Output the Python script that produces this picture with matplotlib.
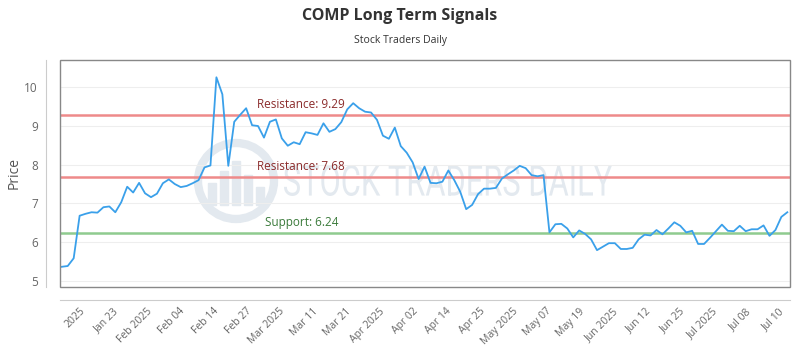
import numpy as np
import matplotlib
matplotlib.use('Agg')
import matplotlib.pyplot as plt
from matplotlib.patches import Rectangle, Circle, PathPatch
from matplotlib.textpath import TextPath
from matplotlib.font_manager import FontProperties
from matplotlib.transforms import Affine2D

plt.rcParams['font.family'] = ['Open Sans', 'DejaVu Sans']

# Dane: cena zamknięcia (dni sesyjne)
prices = [
    5.36, 5.38, 5.58, 6.68, 6.73, 6.77, 6.76, 6.90, 6.92, 6.77,
    7.03, 7.43, 7.28, 7.53, 7.26, 7.16, 7.25, 7.52, 7.62, 7.50,
    7.42, 7.45, 7.52, 7.60, 7.93, 7.98, 10.26, 9.82, 7.97, 9.11,
    9.29, 9.46, 9.02, 9.00, 8.70, 9.11, 9.17, 8.68, 8.49, 8.58,
    8.53, 8.84, 8.81, 8.77, 9.07, 8.85, 8.92, 9.10, 9.43, 9.59,
    9.46, 9.37, 9.35, 9.16, 8.75, 8.67, 8.96, 8.48, 8.31, 8.06,
    7.63, 7.95, 7.53, 7.52, 7.56, 7.85, 7.60, 7.30, 6.85, 6.96,
    7.24, 7.38, 7.38, 7.40, 7.64, 7.75, 7.85, 7.97, 7.91, 7.73,
    7.70, 7.73, 6.25, 6.46, 6.47, 6.35, 6.12, 6.30, 6.21, 6.07,
    5.79, 5.88, 5.97, 5.97, 5.82, 5.82, 5.85, 6.07, 6.19, 6.17,
    6.31, 6.20, 6.35, 6.51, 6.42, 6.25, 6.29, 5.95, 5.95, 6.11,
    6.28, 6.45, 6.29, 6.28, 6.42, 6.28, 6.33, 6.33, 6.43, 6.16,
    6.31, 6.65, 6.77,
]

tick_labels = ['2025', 'Jan 23', 'Feb 2025', 'Feb 04', 'Feb 14', 'Feb 27',
               'Mar 2025', 'Mar 11', 'Mar 21', 'Apr 2025', 'Apr 02', 'Apr 14',
               'Apr 25', 'May 2025', 'May 07', 'May 19', 'Jun 2025', 'Jun 12',
               'Jun 25', 'Jul 2025', 'Jul 08', 'Jul 10']

resistance_levels = [9.29, 7.68]
support_levels = [6.24]

x = np.arange(len(prices))

fig = plt.figure(figsize=(8, 3.5), dpi=100)
ax = fig.add_axes([60 / 800, 1 - 286.5 / 350, 730 / 800, 227 / 350])

# Znak wodny
def px(xp, yp):
    return xp / 100, (350 - yp) / 100

wm_color = '#e3e9ef'
cx, cy = px(236, 181)
fig.patches.append(Circle((cx, cy), 0.38, transform=fig.dpi_scale_trans,
                          fill=False, edgecolor=wm_color, lw=6, zorder=0))
for bx, bh in [(212, 22), (224, 34), (236, 44), (248, 30), (260, 18)]:
    x0, y0 = px(bx - 4, 205)
    fig.patches.append(Rectangle((x0, y0), 0.08, bh / 100, transform=fig.dpi_scale_trans,
                                 color=wm_color, zorder=0))
tp = TextPath((0, 0), 'STOCK TRADERS DAILY', size=1, prop=FontProperties(family='Roboto'))
ext = tp.get_extents()
sx = 3.28 / ext.width
sy = 0.31 / ext.height
tx, ty = px(284, 196)
tr = Affine2D().translate(-ext.x0, -ext.y0).scale(sx, sy).translate(tx, ty) + fig.dpi_scale_trans
fig.patches.append(PathPatch(tp, transform=tr, color=wm_color, lw=0, zorder=0))

ax.set_facecolor('none')
ax.set_zorder(2)

# Osie przesunięte na zewnątrz (przed ustawieniem etykiet, bo resetuje ticki)
for s in ['top', 'right']:
    ax.spines[s].set_visible(False)
for s in ['left', 'bottom']:
    ax.spines[s].set_position(('outward', 10))
    ax.spines[s].set_color('#cccccc')

for v in range(5, 11):
    ax.axhline(v, color='#eeeeee', lw=0.8, zorder=1)

for lvl in resistance_levels:
    ax.axhline(lvl, color='#ee8a8a', lw=1.8, zorder=2)
    ax.annotate(f'Resistance: {lvl:.2f}', xy=(32.8, lvl), xytext=(0, 3),
                textcoords='offset points', color='#8b2b2b', fontsize=8.5,
                va='bottom', ha='left')
for lvl in support_levels:
    ax.axhline(lvl, color='#8fcb8f', lw=1.8, zorder=2)
    ax.annotate(f'Support: {lvl:.2f}', xy=(34.2, lvl), xytext=(0, 3),
                textcoords='offset points', color='#3a7a3a', fontsize=8.5,
                va='bottom', ha='left')

ax.plot(x, prices, color='#3aa0ea', lw=1.3, zorder=3)

ax.set_xlim(-0.3, len(prices) - 0.55)
ax.set_ylim(4.85, 10.72)
ax.set_yticks(range(5, 11))

ax.tick_params(length=0, colors='#666666', labelsize=8.5)
ax.tick_params(axis='x', pad=4, labelsize=7.5)
ax.tick_params(axis='y', pad=6)

ax.set_xticks(np.linspace(3.0, 120.6, len(tick_labels)))
ax.set_xticklabels(tick_labels, rotation=45, ha='right', rotation_mode='anchor')

ax.add_patch(Rectangle((0, 0), 1, 1, transform=ax.transAxes, fill=False,
                       edgecolor='#888888', lw=1.0, clip_on=False, zorder=4))

ax.set_ylabel('Price', color='#555555', fontsize=10, labelpad=2)

fig.text(0.5, 1 - 16 / 350, 'COMP Long Term Signals', ha='center', va='center',
         fontsize=11.5, fontweight='bold', color='#333333')
fig.text(0.5, 1 - 40 / 350, 'Stock Traders Daily', ha='center', va='center',
         fontsize=7.5, color='#333333')

fig.savefig('out.png', dpi=100)
